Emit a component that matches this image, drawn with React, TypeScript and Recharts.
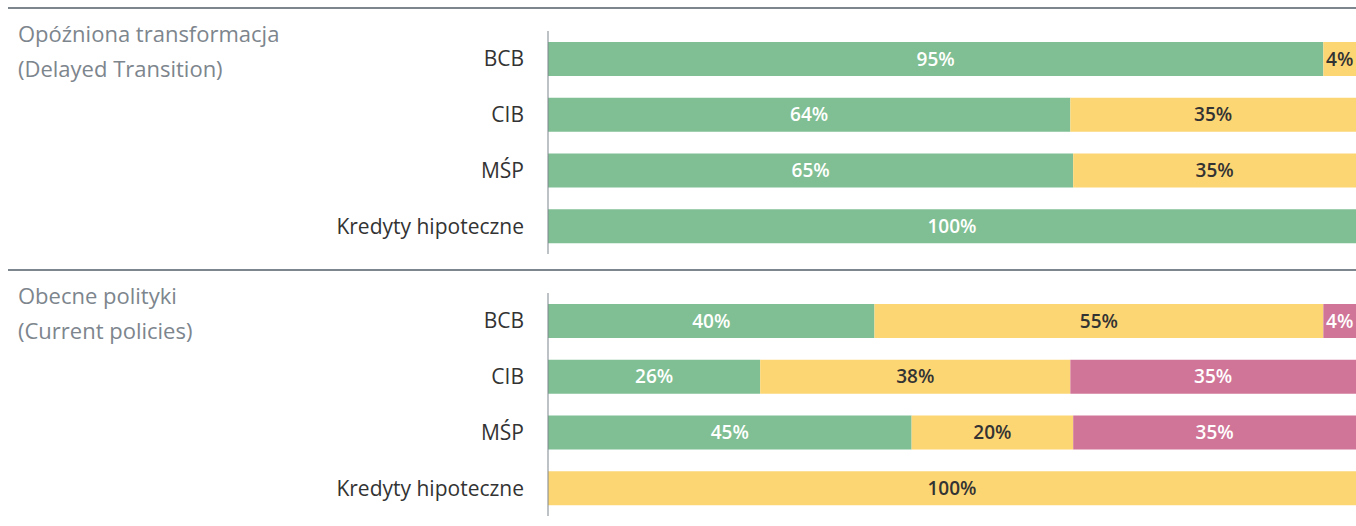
import React from 'react';
import { BarChart, Bar, XAxis, YAxis, LabelList } from 'recharts';

const categories = ['BCB', 'CIB', 'MŚP', 'Kredyty hipoteczne'];

// Opóźniona transformacja (Delayed Transition)
const delayedGreen = [95, 64, 65, 100];
const delayedYellow = [4, 35, 35, 0];
const delayedPink = [0, 0, 0, 0];

// Obecne polityki (Current policies)
const currentGreen = [40, 26, 45, 0];
const currentYellow = [55, 38, 20, 100];
const currentPink = [4, 35, 35, 0];

const GREEN = '#7fbf93';
const YELLOW = '#fdd674';
const PINK = '#d07597';
const GREY = '#7d858d';
const FONT = '"Open Sans", sans-serif';

const buildRows = (g: number[], y: number[], p: number[]) =>
  categories.map((name, i) => ({ name, green: g[i], yellow: y[i], pink: p[i] }));

const fmt = (v: any) => (v ? `${v}%` : '');

interface PanelProps {
  top: number;
  title: string[];
  rows: { name: string; green: number; yellow: number; pink: number }[];
}

const Panel: React.FC<PanelProps> = ({ top, title, rows }) => (
  <>
    <div style={{ position: 'absolute', left: 8, top: top + 7, width: 1348, height: 2, background: GREY }} />
    <div
      style={{
        position: 'absolute',
        left: 18,
        top: top + 16,
        fontFamily: FONT,
        fontSize: 22,
        lineHeight: '35px',
        color: GREY,
      }}
    >
      {title.map((t) => (
        <div key={t}>{t}</div>
      ))}
    </div>
    <div style={{ position: 'absolute', left: 0, top }}>
      <BarChart
        width={1356}
        height={254}
        data={rows}
        layout="vertical"
        stackOffset="expand"
        barSize={34}
        margin={{ top: 31, right: 0, bottom: 0, left: 0 }}
      >
        <XAxis type="number" hide domain={[0, 1]} />
        <YAxis
          type="category"
          dataKey="name"
          width={548}
          axisLine={{ stroke: GREY, strokeWidth: 1 }}
          tickLine={false}
          tickSize={0}
          tickMargin={24}
          tick={{ fontSize: 21, fill: '#333', fontFamily: FONT }}
        />
        <Bar dataKey="green" stackId="a" fill={GREEN} isAnimationActive={false}>
          <LabelList dataKey="green" position="center" formatter={fmt} fill="#fff" fontSize={19} fontWeight={600} fontFamily={FONT} />
        </Bar>
        <Bar dataKey="yellow" stackId="a" fill={YELLOW} isAnimationActive={false}>
          <LabelList dataKey="yellow" position="center" formatter={fmt} fill="#333" fontSize={19} fontWeight={600} fontFamily={FONT} />
        </Bar>
        <Bar dataKey="pink" stackId="a" fill={PINK} isAnimationActive={false}>
          <LabelList dataKey="pink" position="center" formatter={fmt} fill="#fff" fontSize={19} fontWeight={600} fontFamily={FONT} />
        </Bar>
      </BarChart>
    </div>
  </>
);

export default function App() {
  return (
    <div style={{ position: 'absolute', left: 0, top: 0, width: 1356, height: 526, background: '#fff', overflow: 'hidden' }}>
      <Panel top={0} title={['Opóźniona transformacja', '(Delayed Transition)']} rows={buildRows(delayedGreen, delayedYellow, delayedPink)} />
      <Panel top={262} title={['Obecne polityki', '(Current policies)']} rows={buildRows(currentGreen, currentYellow, currentPink)} />
    </div>
  );
}
